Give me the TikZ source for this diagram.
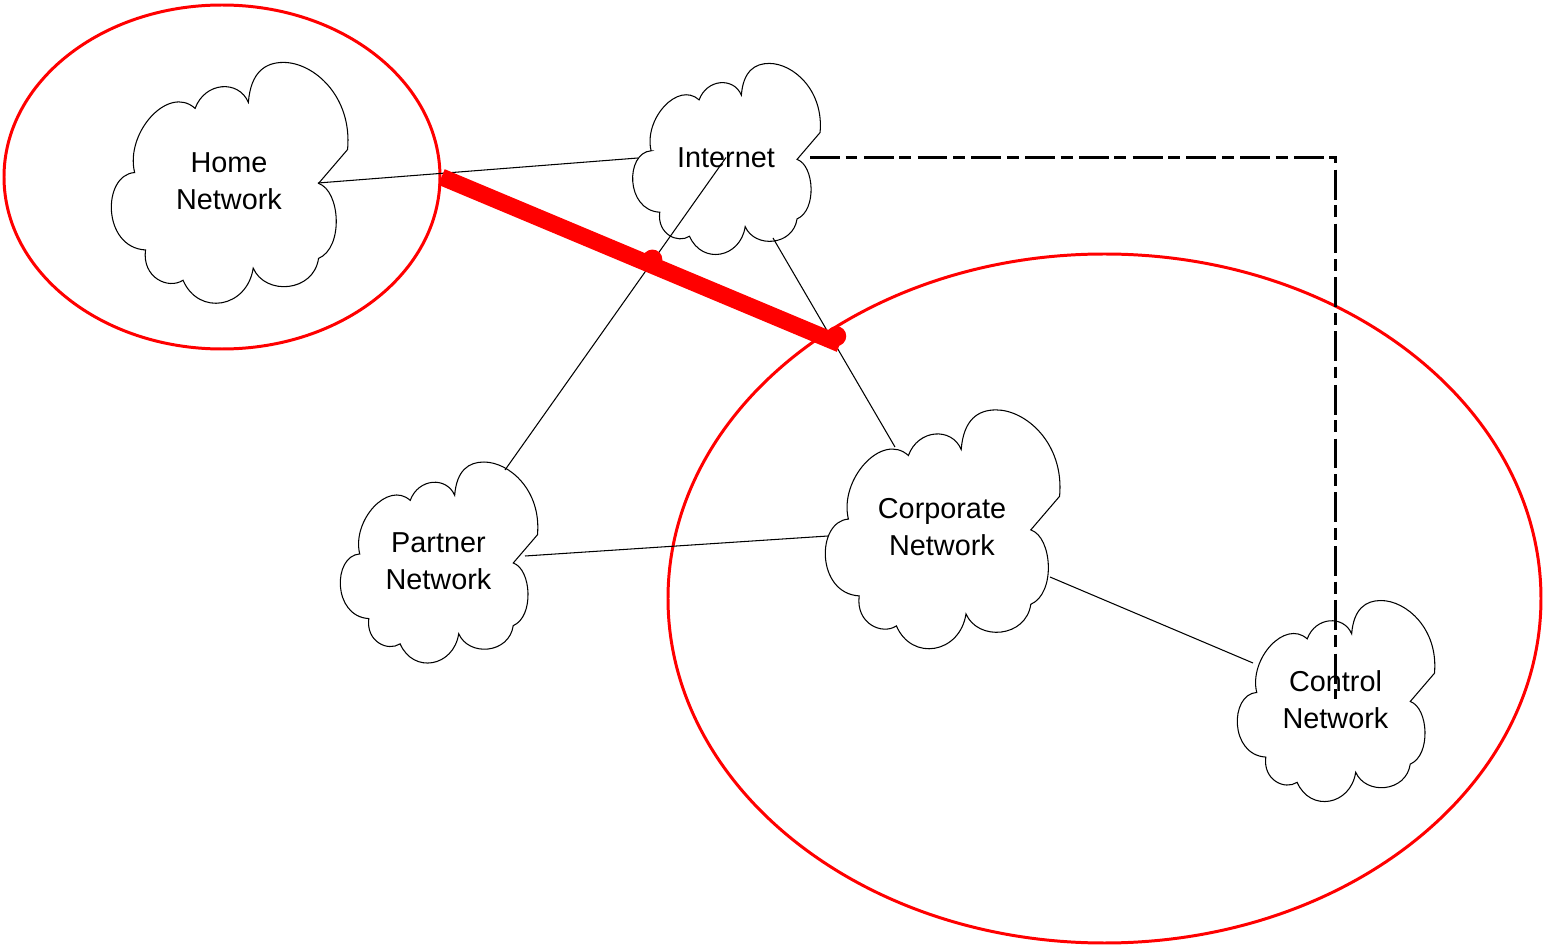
\documentclass[tikz,border=0pt]{standalone}
\usepackage{fontspec}
\setmainfont{Liberation Sans}
\usetikzlibrary{calc,shapes.geometric}

\newcommand{\netcloud}[2]{%
\draw[line width=0.3pt,shift={(#1.center)},scale=#2] (-0.78,0.07)
  .. controls (-0.86,0.40) and (-0.50,0.80) .. (-0.28,0.60)
  .. controls (-0.20,0.82) and (0.08,0.84) .. (0.16,0.65)
  .. controls (0.18,0.90) and (0.30,0.98) .. (0.45,0.98)
  .. controls (0.70,0.98) and (1.02,0.70) .. (0.98,0.26)
  -- (0.74,-0.02)
  .. controls (0.92,-0.08) and (0.95,-0.55) .. (0.74,-0.64)
  .. controls (0.70,-0.92) and (0.30,-0.95) .. (0.20,-0.72)
  .. controls (0.15,-1.05) and (-0.25,-1.12) .. (-0.38,-0.82)
  .. controls (-0.50,-0.90) and (-0.72,-0.80) .. (-0.69,-0.57)
  .. controls (-1.05,-0.55) and (-1.05,0.05) .. cycle;}

\begin{document}
\begin{tikzpicture}[font=\fontsize{8.2}{10.5}\selectfont,
  net/.style={align=center,inner sep=0pt},
  link/.style={line width=0.3pt},
  zone/.style={ellipse,draw=red,line width=0.85pt,inner sep=0pt},
  tunnel/.style={red,line width=4.8pt},
  mgmt/.style={line width=0.85pt,dash pattern=on 8.5pt off 1.6pt on 3.4pt off 1.8pt}]
\useasboundingbox (0,0) rectangle (15.43,-9.47);

\node[zone,minimum width=4.36cm,minimum height=3.44cm] (homezone) at (2.22,-1.77) {};
\node[zone,minimum width=8.73cm,minimum height=6.89cm] (corpzone) at (11.045,-5.985) {};

\node[net] (home) at (2.29,-1.81) {Home\\Network};
\node[net] (inet) at (7.26,-1.575) {Internet};
\node[net] (partner) at (4.385,-5.61) {Partner\\Network};
\node[net] (corp) at (9.42,-5.275) {Corporate\\Network};
\node[net] (control) at (13.355,-6.995) {Control\\Network};

\netcloud{home}{1.21}
\netcloud{inet}{0.96}
\netcloud{partner}{1.01}
\netcloud{corp}{1.20}
\netcloud{control}{1.01}

\coordinate (home-r) at (3.18,-1.83);
\coordinate (inet-l) at (6.38,-1.58);
\coordinate (inet-b) at (7.73,-2.38);
\coordinate (inet-r) at (8.10,-1.575);
\coordinate (inet-c) at (inet.center);
\coordinate (partner-t) at (5.05,-4.70);
\coordinate (partner-r) at (5.25,-5.56);
\coordinate (corp-t) at (8.95,-4.47);
\coordinate (corp-l) at (8.28,-5.36);
\coordinate (corp-r) at (10.50,-5.77);
\coordinate (control-l) at (12.53,-6.63);
\coordinate (tun-a) at (homezone.east);
\coordinate (tun-b) at (8.40,-3.44);
\coordinate (j1) at (intersection of tun-a--tun-b and partner-t--inet-c);
\coordinate (j2) at (intersection of tun-a--tun-b and inet-b--corp-t);

\draw[link] (home-r) -- (inet-l);
\draw[link] (partner-t) -- (inet-c);
\draw[link] (inet-b) -- (corp-t);
\draw[link] (partner-r) -- (corp-l);
\draw[link] (corp-r) -- (control-l);
\draw[mgmt] (inet-r) -| (control.center);

\draw[tunnel] (tun-a) -- (tun-b);
\fill[red] ($(j1)+(0.02,0.05)$) circle (0.1);
\fill[red] ($(j2)+(0.03,0.05)$) circle (0.1);

\end{tikzpicture}
\end{document}
